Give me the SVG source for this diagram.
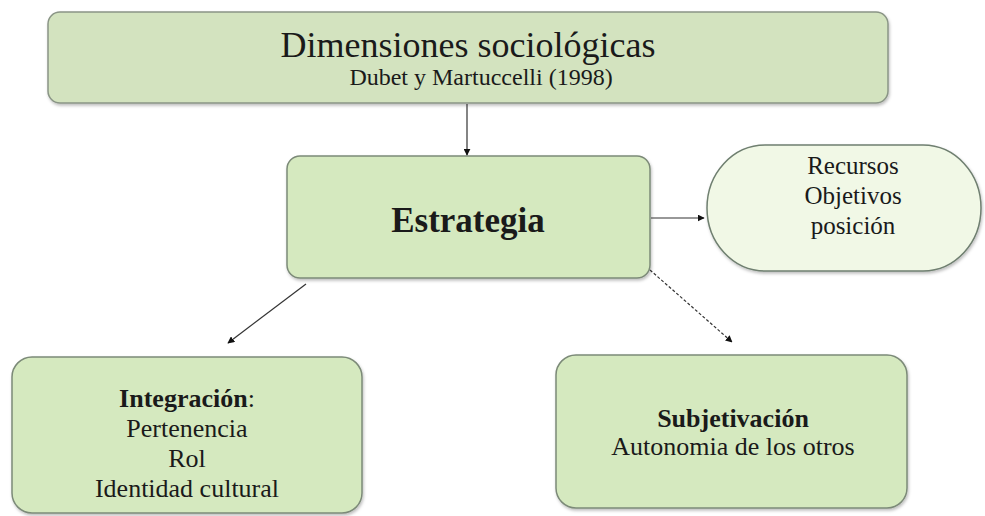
<svg xmlns="http://www.w3.org/2000/svg" width="985" height="516" viewBox="0 0 985 516">
  <style>
    .box { fill: #d5e9bf; stroke: #7c8a78; stroke-width: 1.5; }
    .top { fill: #d3e3bf; stroke: #8a9586; stroke-width: 1.5; }
    .pill { fill: #f1f8e6; stroke: #6f7f70; stroke-width: 1.5; }
    text { font-family: "Liberation Serif", "Times New Roman", serif; fill: #1a1a1a; text-anchor: middle; }
    .b { font-weight: bold; }
    .conn { stroke: #333; stroke-width: 1.2; fill: none; }
  </style>
  <defs>
    <marker id="arr" viewBox="0 0 10 10" refX="9" refY="5" markerWidth="7" markerHeight="7" orient="auto" markerUnits="userSpaceOnUse">
      <path d="M0,0 L10,5 L0,10 z" fill="#111"/>
    </marker>
    <filter id="sh" x="-5%" y="-5%" width="110%" height="115%">
      <feDropShadow dx="1" dy="2" stdDeviation="1.5" flood-color="#000" flood-opacity="0.25"/>
    </filter>
  </defs>
  <rect width="985" height="516" fill="#ffffff"/>

  <g id="dimensiones">
    <rect class="top" x="48" y="12" width="840" height="91" rx="12" filter="url(#sh)"/>
    <text x="468" y="57" font-size="36">Dimensiones  sociológicas</text>
    <text x="481" y="85" font-size="24">Dubet y Martuccelli (1998)</text>
  </g>

  <g id="estrategia">
    <rect class="box" x="287" y="156" width="363" height="122" rx="13" filter="url(#sh)"/>
    <text class="b" x="468" y="232" font-size="35">Estrategia</text>
  </g>

  <g id="recursos">
    <rect class="pill" x="707" y="145" width="274" height="126" rx="58" ry="63" filter="url(#sh)"/>
    <text x="853" y="174" font-size="25">Recursos</text>
    <text x="853" y="204" font-size="25">Objetivos</text>
    <text x="853" y="234" font-size="25">posición</text>
  </g>

  <g id="integracion">
    <rect class="box" x="12" y="357" width="350" height="156" rx="20" filter="url(#sh)"/>
    <text x="187" y="407" font-size="26"><tspan class="b">Integración</tspan>:</text>
    <text x="187" y="437" font-size="26">Pertenencia</text>
    <text x="187" y="467" font-size="26">Rol</text>
    <text x="187" y="497" font-size="26">Identidad cultural</text>
  </g>

  <g id="subjetivacion">
    <rect class="box" x="556" y="355" width="351" height="153" rx="20" filter="url(#sh)"/>
    <text class="b" x="733" y="427" font-size="26">Subjetivación</text>
    <text x="733" y="455" font-size="26">Autonomia de los otros</text>
  </g>

  <g id="connectors">
    <line class="conn" x1="467" y1="104" x2="467" y2="155" marker-end="url(#arr)"/>
    <line class="conn" x1="651" y1="218" x2="704" y2="218" marker-end="url(#arr)"/>
    <line class="conn" x1="306" y1="284" x2="228" y2="343" stroke="#777" marker-end="url(#arr)"/>
    <line class="conn" x1="650" y1="270" x2="732" y2="342" stroke="#222" stroke-width="2.2" stroke-dasharray="3,2" marker-end="url(#arr)"/>
  </g>
</svg>
